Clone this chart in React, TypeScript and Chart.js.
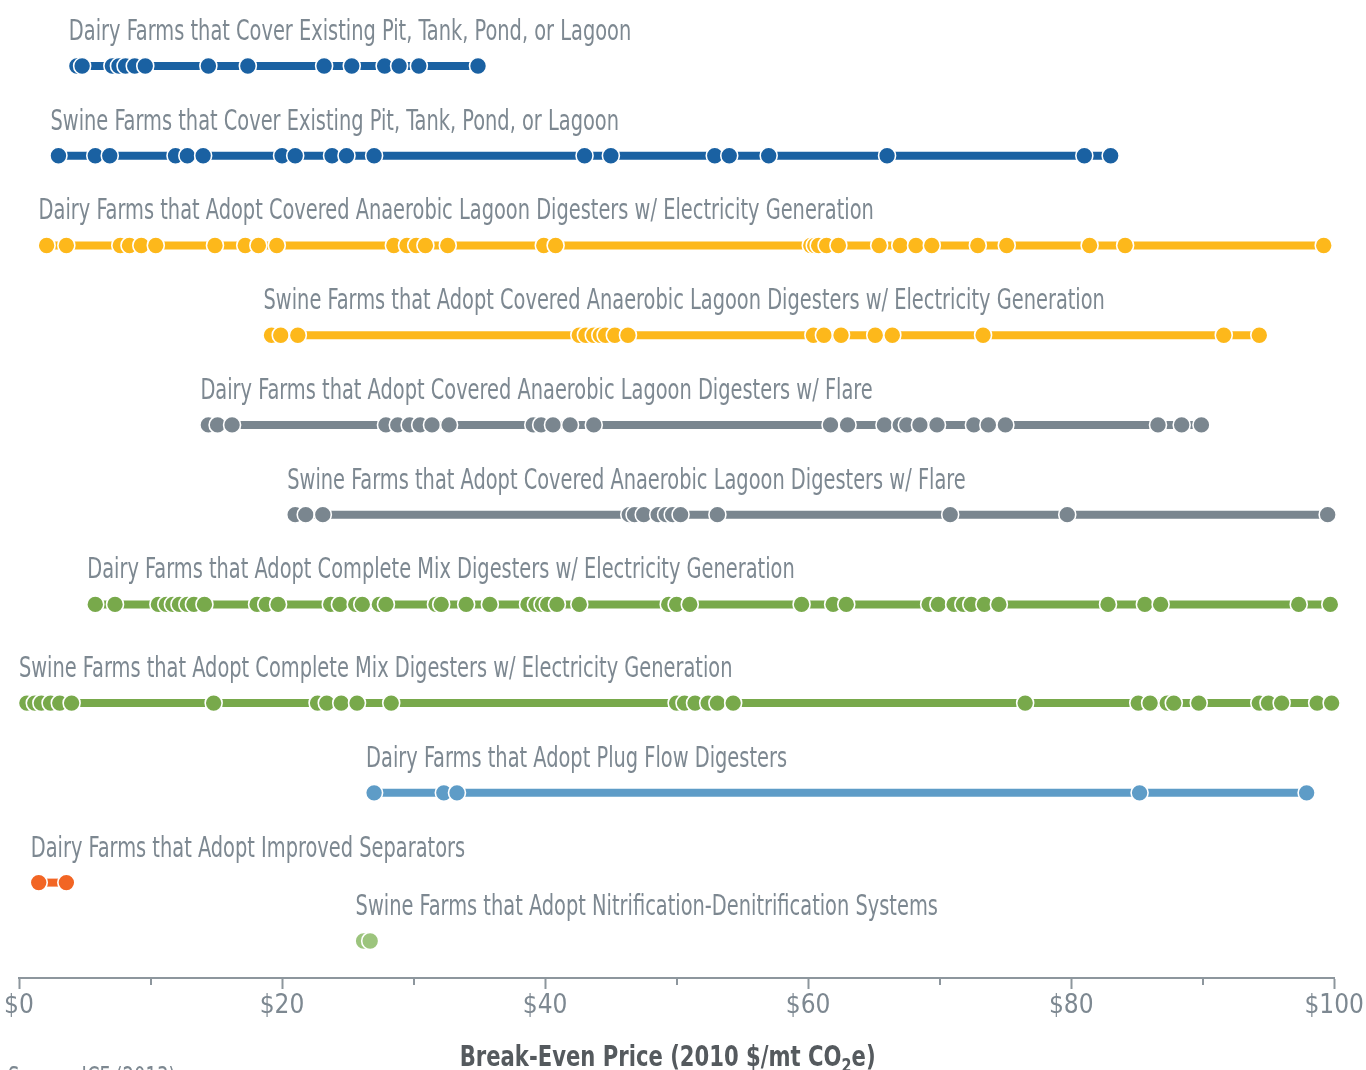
import React, { useEffect, useRef } from 'react';
import { Chart, registerables } from 'chart.js';

Chart.register(...registerables);

// ---------- DATA ----------
const categories = [
  'Dairy Farms that Cover Existing Pit, Tank, Pond, or Lagoon',
  'Swine Farms that Cover Existing Pit, Tank, Pond, or Lagoon',
  'Dairy Farms that Adopt Covered Anaerobic Lagoon Digesters w/ Electricity Generation',
  'Swine Farms that Adopt Covered Anaerobic Lagoon Digesters w/ Electricity Generation',
  'Dairy Farms that Adopt Covered Anaerobic Lagoon Digesters w/ Flare',
  'Swine Farms that Adopt Covered Anaerobic Lagoon Digesters w/ Flare',
  'Dairy Farms that Adopt Complete Mix Digesters w/ Electricity Generation',
  'Swine Farms that Adopt Complete Mix Digesters w/ Electricity Generation',
  'Dairy Farms that Adopt Plug Flow Digesters',
  'Dairy Farms that Adopt Improved Separators',
  'Swine Farms that Adopt Nitrification-Denitrification Systems',
];

const dairyCover = [4.4, 4.8, 7.1, 7.6, 8.1, 8.8, 9.6, 14.4, 17.4, 23.2, 25.3, 27.8, 28.9, 30.4, 34.9];
const swineCover = [3.0, 5.8, 6.9, 11.9, 12.8, 14.0, 20.0, 21.0, 23.8, 24.9, 27.0, 43.0, 45.0, 52.9, 54.0, 57.0, 66.0, 81.0, 83.0];
const dairyLagoonElec = [2.1, 3.6, 7.7, 8.4, 9.3, 10.4, 14.9, 17.2, 18.2, 19.6, 28.5, 29.5, 30.2, 30.9, 32.6, 39.9, 40.8, 60.2, 60.5, 60.8, 61.4, 62.3, 65.4, 67.0, 68.2, 69.4, 72.9, 75.1, 81.4, 84.1, 99.2];
const swineLagoonElec = [19.2, 19.9, 21.2, 42.6, 43.1, 43.7, 44.2, 44.6, 45.3, 46.3, 60.4, 61.2, 62.5, 65.1, 66.4, 73.3, 91.6, 94.3];
const dairyFlare = [14.4, 15.1, 16.2, 27.9, 28.8, 29.7, 30.5, 31.4, 32.7, 39.1, 39.7, 40.6, 41.9, 43.7, 61.7, 63.0, 65.8, 67.0, 67.5, 68.5, 69.8, 72.6, 73.7, 75.0, 86.6, 88.4, 89.9];
const swineFlare = [21.0, 21.8, 23.1, 46.4, 46.8, 47.5, 48.6, 49.2, 49.7, 50.3, 53.1, 70.8, 79.7, 99.5];
const dairyMix = [5.8, 7.3, 10.6, 11.2, 11.7, 12.2, 12.8, 13.3, 14.1, 18.1, 18.8, 19.7, 23.7, 24.4, 25.6, 26.1, 27.4, 27.9, 31.7, 32.1, 34.0, 35.8, 38.7, 39.3, 39.8, 40.2, 40.9, 42.6, 49.4, 50.0, 51.0, 59.5, 61.9, 62.9, 69.2, 69.9, 71.1, 71.8, 72.4, 73.4, 74.5, 82.8, 85.6, 86.8, 97.3, 99.7];
const swineMix = [0.6, 1.2, 1.7, 2.4, 3.1, 4.0, 14.8, 22.7, 23.4, 24.5, 25.7, 28.3, 50.0, 50.6, 51.4, 52.4, 53.1, 54.3, 76.5, 85.1, 86.0, 87.3, 87.8, 89.7, 94.3, 95.0, 96.0, 98.7, 99.8];
const plugFlow = [27.0, 32.3, 33.3, 85.2, 97.9];
const separators = [1.5, 3.6];
const nitrification = [26.2, 26.7];

const tickValues = [0, 20, 40, 60, 80, 100];
const minorTickValues = [10, 30, 50, 70, 90];
const axisTitleMain = 'Break-Even Price (2010 $/mt CO';
const axisTitleSub = '2';
const axisTitleEnd = 'e)';
const sourceNote = 'Source: ICF (2013)';

// ---------- STYLE / LAYOUT ----------
const DARK_BLUE = '#1a61a2';
const YELLOW = '#fdb81b';
const GRAY = '#7a868f';
const GREEN = '#78a94b';
const LIGHT_BLUE = '#5e9cc7';
const ORANGE = '#f26524';
const LIGHT_GREEN = '#9cc47d';
const TEXT_GRAY = '#7d8891';
const TITLE_GRAY = '#555a5e';
const AXIS_GRAY = '#8d969d';

const seriesValues = [dairyCover, swineCover, dairyLagoonElec, swineLagoonElec, dairyFlare, swineFlare, dairyMix, swineMix, plugFlow, separators, nitrification];
const seriesColors = [DARK_BLUE, DARK_BLUE, YELLOW, YELLOW, GRAY, GRAY, GREEN, GREEN, LIGHT_BLUE, ORANGE, LIGHT_GREEN];
const ROW_POS = [0, 1, 2, 3, 4, 5, 6, 7.1, 8.1, 9.1, 9.75];

const FONT_FAMILY = "'Liberation Sans Narrow', 'Arial Narrow', 'DejaVu Sans Condensed', sans-serif";
const LABEL_SX = 0.77;
const TITLE_SX = 0.84;
const W = 1366;
const H = 1070;

const labelsPlugin = {
  id: 'rowLabels',
  afterDraw(chart: any) {
    const ctx = chart.ctx;
    const xs = chart.scales.x;
    const ys = chart.scales.y;
    ctx.save();
    ctx.fillStyle = TEXT_GRAY;
    ctx.font = `28px ${FONT_FAMILY}`;
    ctx.textBaseline = 'alphabetic';
    ctx.textAlign = 'left';
    categories.forEach((c, i) => {
      const vals = seriesValues[i];
      const x = xs.getPixelForValue(Math.min(...vals)) - 8;
      const y = ys.getPixelForValue(ROW_POS[i]) - 26;
      ctx.save();
      ctx.translate(x, y);
      ctx.scale(LABEL_SX, 1);
      ctx.fillText(c, 0, 0);
      ctx.restore();
    });

    // minor ticks
    ctx.strokeStyle = AXIS_GRAY;
    ctx.lineWidth = 2;
    const bottom = chart.chartArea.bottom;
    minorTickValues.forEach((v) => {
      const px = Math.round(xs.getPixelForValue(v));
      ctx.beginPath();
      ctx.moveTo(px, bottom);
      ctx.lineTo(px, bottom + 7);
      ctx.stroke();
    });

    // axis title with subscript
    ctx.fillStyle = TITLE_GRAY;
    const mainFont = `bold 28px ${FONT_FAMILY}`;
    const subFont = `bold 19px ${FONT_FAMILY}`;
    ctx.font = mainFont;
    const w1 = ctx.measureText(axisTitleMain).width;
    const w3 = ctx.measureText(axisTitleEnd).width;
    ctx.font = subFont;
    const w2 = ctx.measureText(axisTitleSub).width;
    const total = (w1 + w2 + w3) * TITLE_SX;
    const cx = (chart.chartArea.left + chart.chartArea.right) / 2 - 9;
    const baseY = H - 4;
    ctx.save();
    ctx.translate(cx - total / 2, baseY);
    ctx.scale(TITLE_SX, 1);
    ctx.textBaseline = 'alphabetic';
    let tx = 0;
    ctx.font = mainFont;
    ctx.fillText(axisTitleMain, tx, 0);
    tx += w1;
    ctx.font = subFont;
    ctx.fillText(axisTitleSub, tx, 6);
    tx += w2;
    ctx.font = mainFont;
    ctx.fillText(axisTitleEnd, tx, 0);
    ctx.restore();

    // source note (cut off at bottom)
    ctx.fillStyle = TEXT_GRAY;
    ctx.font = `26px ${FONT_FAMILY}`;
    ctx.textBaseline = 'top';
    ctx.save();
    ctx.translate(8, H - 4);
    ctx.scale(LABEL_SX, 1);
    ctx.fillText(sourceNote, 0, 0);
    ctx.restore();
    ctx.restore();
  },
};

export default function App() {
  const ref = useRef<HTMLCanvasElement | null>(null);

  useEffect(() => {
    document.body.style.margin = '0';
    const canvas = ref.current;
    if (!canvas) return;
    const datasets = seriesValues.map((vals, i) => ({
      label: categories[i],
      data: vals.map((v) => ({ x: v, y: ROW_POS[i] })),
      showLine: true,
      borderColor: seriesColors[i],
      backgroundColor: seriesColors[i],
      borderWidth: 8,
      borderCapStyle: 'butt' as const,
      pointRadius: 8.5,
      pointHoverRadius: 8.5,
      pointBackgroundColor: seriesColors[i],
      pointBorderColor: '#ffffff',
      pointBorderWidth: 1.6,
      tension: 0,
      clip: false as any,
    }));

    const chart = new Chart(canvas, {
      type: 'scatter',
      data: { datasets },
      options: {
        animation: false,
        responsive: false,
        devicePixelRatio: 1,
        layout: { autoPadding: false, padding: { left: 19, right: 30, top: 0, bottom: 0 } },
        plugins: {
          legend: { display: false },
          tooltip: { enabled: false },
          title: { display: false },
        },
        scales: {
          x: {
            type: 'linear',
            position: 'bottom',
            min: 0,
            max: 100,
            afterFit: (scale: any) => {
              scale.height = 92;
            },
            afterBuildTicks: (scale: any) => {
              scale.ticks = tickValues.map((v) => ({ value: v }));
            },
            ticks: {
              autoSkip: false,
              maxRotation: 0,
              padding: 2,
              color: TEXT_GRAY,
              font: { family: FONT_FAMILY, size: 26 },
              callback: (v: any) => '$' + v,
            },
            grid: {
              drawOnChartArea: false,
              drawTicks: true,
              tickLength: 11,
              tickWidth: 2,
              tickColor: AXIS_GRAY,
            },
            border: { display: true, color: AXIS_GRAY, width: 2 },
            title: { display: false },
          },
          y: {
            type: 'linear',
            display: false,
            reverse: true,
            min: -0.735,
            max: 10.163,
          },
        },
      },
      plugins: [labelsPlugin],
    });
    return () => chart.destroy();
  }, []);

  return (
    <div style={{ width: W, height: H, position: 'relative', overflow: 'hidden' }}>
      <canvas ref={ref} width={W} height={H} style={{ width: W, height: H, display: 'block' }} />
    </div>
  );
}
